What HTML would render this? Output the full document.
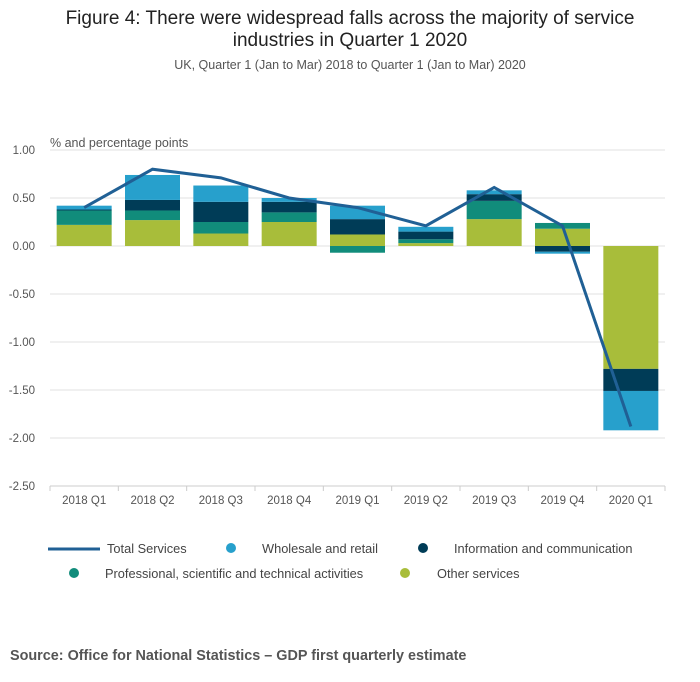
<!DOCTYPE html>
<html><head><meta charset="utf-8"><style>
body{margin:0;background:#fff;font-family:"Liberation Sans",sans-serif;}
#wrap{position:relative;width:700px;height:682px;overflow:hidden}
</style></head><body>
<div id="wrap">
<svg id="c" width="700" height="682" xmlns="http://www.w3.org/2000/svg">
<text x="350" y="24" font-size="19" text-anchor="middle" fill="#222">Figure 4: There were widespread falls across the majority of service</text>
<text x="350" y="46" font-size="19" text-anchor="middle" fill="#222">industries in Quarter 1 2020</text>
<text x="350" y="69" font-size="12.5" text-anchor="middle" fill="#555">UK, Quarter 1 (Jan to Mar) 2018 to Quarter 1 (Jan to Mar) 2020</text>
<text x="50" y="147" font-size="12.5" fill="#555">% and percentage points</text>
<g id="grid"></g><g id="bars"></g><g id="line"></g><g id="xax"></g>
<g font-size="12.8" fill="#444">
<line x1="48" y1="549" x2="100" y2="549" stroke="#206095" stroke-width="3"/>
<text x="107" y="553">Total Services</text>
<circle cx="231" cy="548" r="5" fill="#27a0cc"/>
<text x="262" y="553">Wholesale and retail</text>
<circle cx="423" cy="548" r="5" fill="#003c57"/>
<text x="454" y="553">Information and communication</text>
<circle cx="74" cy="573" r="5" fill="#118c7b"/>
<text x="105" y="578">Professional, scientific and technical activities</text>
<circle cx="405" cy="573" r="5" fill="#a8bd3a"/>
<text x="437" y="578">Other services</text>
</g>
<text x="10" y="660" font-size="14.4" font-weight="bold" fill="#555">Source: Office for National Statistics – GDP first quarterly estimate</text>
</svg></div>
<script>
const categories=["2018 Q1","2018 Q2","2018 Q3","2018 Q4","2019 Q1","2019 Q2","2019 Q3","2019 Q4","2020 Q1"];
const otherServices=[0.22,0.27,0.13,0.25,0.12,0.03,0.28,0.18,-1.28];
const professional=[0.15,0.10,0.12,0.10,-0.07,0.04,0.19,0.06,0];
const information=[0.01,0.11,0.21,0.11,0.16,0.08,0.07,-0.06,-0.23];
const wholesale=[0.04,0.26,0.17,0.04,0.14,0.05,0.04,-0.02,-0.41];
const totalServices=[0.40,0.80,0.71,0.50,0.40,0.21,0.61,0.21,-1.88];
const yTicks=[1,0.5,0,-0.5,-1,-1.5,-2,-2.5];
const NS="http://www.w3.org/2000/svg";
const X0=50,X1=665,Y0=246,PPU=96;
const bw=(X1-X0)/categories.length;
function y(v){return Y0-v*PPU;}
function xc(i){return X0+bw*(i+0.5);}
function mk(t,a,p){const e=document.createElementNS(NS,t);for(const k in a)e.setAttribute(k,a[k]);p.appendChild(e);return e;}
const grid=document.getElementById('grid');
yTicks.forEach(v=>{
 const l=mk('line',{x1:X0,x2:X1,y1:y(v),y2:y(v),stroke:'#e0e0e0','stroke-width':1},grid);
 
 
 const t=mk('text',{x:35,y:y(v)+4,'font-size':11.5,'text-anchor':'end',fill:'#555'},grid);
 t.textContent=v.toFixed(2);
 
 
});
const bars=document.getElementById('bars');
const series=[[otherServices,'#a8bd3a','other'],[professional,'#118c7b','professional'],[information,'#003c57','information'],[wholesale,'#27a0cc','wholesale']];
categories.forEach((c,i)=>{
 let pos=0,neg=0;
 series.forEach(s=>{
  const v=s[0][i];if(!v)return;
  let a,b;
  if(v>0){a=pos;b=pos+v;pos=b;}else{a=neg;b=neg+v;neg=b;}
  const r=mk('rect',{x:xc(i)-27.5,width:55,y:Math.min(y(a),y(b)),height:Math.abs(y(a)-y(b)),fill:s[1]},bars);
  
  
 });
});
const xax=document.getElementById('xax');
mk('line',{x1:X0,x2:X1,y1:486,y2:486,stroke:'#ccc'},xax);
categories.forEach((c,i)=>{
 const tk=mk('line',{x1:X0+bw*i,x2:X0+bw*i,y1:486,y2:491,stroke:'#ccc'},xax);
 
 
 const t=mk('text',{x:xc(i),y:504,'font-size':11.5,'text-anchor':'middle',fill:'#555'},xax);
 t.textContent=c;
 
 
});
mk('line',{x1:X1,x2:X1,y1:486,y2:491,stroke:'#ccc'},xax);
const pl=mk('polyline',{points:totalServices.map((v,i)=>xc(i)+','+y(v)).join(' '),fill:'none',stroke:'#206095','stroke-width':3},document.getElementById('line'));


</script>
</body></html>
